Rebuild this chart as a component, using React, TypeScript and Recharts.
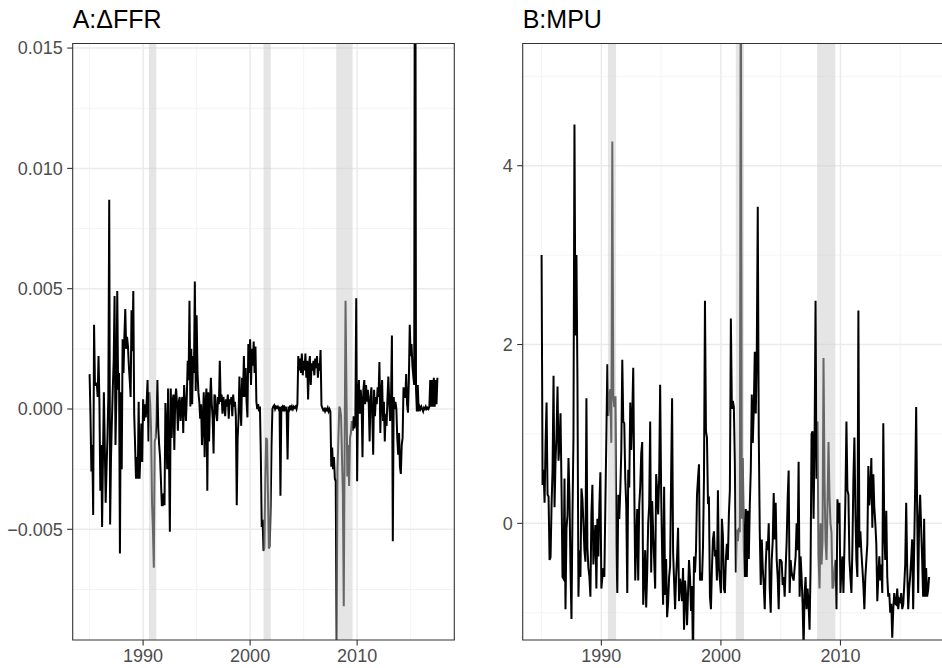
import React from 'react';
import { LineChart, Line, XAxis, YAxis, CartesianGrid, ReferenceArea } from 'recharts';

const firstYear = 1985;

// monthly change in the federal funds rate, one row per year (Jan 1985 - Jul 2017)
const dffr = [
  0.00145, -0.0003, -0.0026, -0.0015, -0.0044, 0.0035, 0.001, 0.001, 0.0011, 0.0005, 0.0022, 0.0003,
  -0.0034, -0.0015, -0.0049, -0.002, 0.0007, -0.0015, -0.0039, -0.0025, -0.0012, 0.0005, 0.0087, -0.0048,
  -0.002, -0.0005, 0.00085, 0.002, 0.0047, -0.0015, 0.0005, 0.0049, 0.0008, 0.0015, -0.006, 0.0007,
  -0.0025, 0.0029, 0.0015, 0.003, 0.00415, 0.0025, 0.003, 0.0026, 0.0018, 0.0012, 0.0005, 0.0041,
  0.0024, 0.0049, -0.0002, -0.0015, -0.0029, -0.002, -0.0029, 0.0003, -0.0029, -0.0018, -0.0006, -0.0022,
  0.0004, -0.0005, 0.0002, -0.00035, 0.0003, 0.0012, -0.00135, 0.0007, 0.0002, -0.001, -0.0039, -0.005,
  -0.0066, -0.00135, -0.0012, -0.0005, 0.0012, -0.0008, -0.0015, -0.002, -0.003, -0.004, -0.004, -0.0035,
  -0.004, 0.00025, -0.001, -0.0025, 0.00085, -0.002, -0.0051, 0.00085, -0.0012, 0.0003, 0.0006, -0.0017,
  0.0004, 0.00085, 0.0002, -0.0009, 0.0003, 0.0005, -0.0005, 0.0002, 0.0005, -0.001, 0.001, 0.0002,
  -0.0005, 0.0005, 0.002, 0.0012, 0.0045, 0.0001, 0.0025, 0.0002, 0.0022, 0.0015, 0.0053, 0.00075,
  0.0039, 0.0015, 0.0007, 0.0003, -0.0004, 0.0002, -0.0015, -0.0005, 0.0007, -0.002, 0.0002, 0.00085,
  -0.0034, 0.0007, -0.00135, 0.0003, 0.0013, 0.0002, -0.0004, -0.00185, 0.0006, 0.0005, -0.0002, -0.0005,
  0.0005, 0.0002, 0.002, 0.0003, 0.0006, -0.0002, 0.0005, 0.0002, -0.0003, 0.0004, 0.0001, 0.0006,
  -0.0004, 0.0004, 0.0002, 0.0005, -0.0003, 0.0006, 0.0001, 0.0003, -0.0003, -0.004, -0.0012, -0.0004,
  0.00135, 0.0002, -0.0007, 0.0013, 0.0005, 0.0022, 0.0005, 0.0017, 0.0003, -0.00035, 0.0027, 0.0015,
  0.0029, 0.001, 0.0025, 0.0018, 0.0028, 0.0015, 0.0026, 0.0003, 0, 0.0002, -0.0001, 0.0001,
  -0.0019, -0.0049, -0.0046, -0.0059, -0.0058, -0.0029, -0.0012, -0.0013, -0.0035, -0.0058, -0.0057, -0.0041,
  -0.0015, 0, 0.0001, 0.00015, 0, 0.0001, 0.00005, 0.0001, 0, 0.0001, -0.0036, 0.00005,
  0.0001, -0.0001, 0.00015, 0, 0.0001, -0.00015, -0.0021, 0.0001, 0, 0.00015, -0.00005, 0.0001,
  0, 0.0001, 0.00005, 0.0001, 0, 0.0002, 0.0022, 0.0016, 0.0021, 0.0015, 0.0023, 0.0014,
  0.002, 0.0016, 0.0023, 0.0013, 0.002, 0.0004, 0.0018, 0.0022, 0.001, 0.0019, 0.0016, 0.002,
  0.0014, 0.0021, 0.0017, 0.0022, 0.0013, 0.0019, 0.0016, 0.00245, 0.00015, 0.00005, -0.00005, 0,
  -0.0001, 0, -0.00005, 0.00005, -0.0001, 0, -0.0001, -0.0024, -0.0016, -0.0025, -0.002, -0.0029,
  -0.003, -0.0097, -0.0025, -0.0012, 0.0001, 0, -0.0003, -0.002, -0.0035, -0.0082, -0.0015, 0.0045,
  0.00085, -0.0028, -0.0015, -0.0032, -0.0012, -0.001, -0.0005, -0.0009, -0.0003, -0.0008, -0.0005, 0.0046,
  -0.003, 0.0005, 0.0012, -0.0002, 0.0008, 0.0003, -0.002, 0.0008, 0.0012, 0.0002, 0.001, 0.0003,
  0.0008, 0.0002, -0.00135, 0.0005, 0.0009, -0.0003, -0.0019, 0.0008, -0.0003, 0.0005, 0.0002, 0.0009,
  0.0005, 0.00195, -0.001, 0.0006, 0.0012, -0.0005, 0.0003, -0.00135, -0.0002, -0.0007, 0.0004, 0.00135,
  0.0003, -0.0005, 0.0004, 0.00305, -0.0055, 0.0005, 0, 0.0003, 0, -0.0012, -0.0019, -0.001,
  -0.0024, -0.0027, -0.0015, -0.0012, 0.0009, 0.0005, 0.0005, 0.00145, 0.0002, -0.00015, 0.0012, 0.0035,
  0.0022, 0.0027, 0.0018, 0.00135, 0.001, 0.03, 0.00085, -0.0001, 0.001, -0.0001, 0.0001, 0,
  0.0001, 0, -0.0001, 0.00005, 0, 0.0001, 0, 0.00005, 0, 0.0001, 0.0012, 0.0001,
  0.0012, 0.0001, 0.0013, 0.0001, 0.0012, 0.0002, 0.0013,
];

// monetary policy uncertainty, one row per year (Jan 1985 - Jun 2017)
const mpu = [
  3.0, 0.43, 0.6, 0.23, 0.9, 1.35, 0.32, 0.3, -0.41, -0.38, 0.2, 0.6,
  1.65, 0.18, 0.7, 1.0, 1.53, 0.7, 0.9, 1.23, 0.4, -0.6, -0.62, 0.5,
  -0.96, -0.05, 0.09, 0.73, 0.3, -0.5, -1.07, 0.1, 0.96, 4.46, 2.1, 3.0,
  1.6, -0.82, -0.3, -0.6, 0.39, 0.27, 0.0, -0.3, -0.43, 1.4, -0.27, -0.5,
  -0.6, -0.82, 0.1, 0.43, -0.46, -0.2, -0.02, -0.73, 0.05, -0.37, 0.2, 0.57,
  -0.73, -0.6, -0.5, -0.6, 0.2, 0.96, 1.78, 1.2, 1.42, 1.5, 0.9, 4.27,
  1.42, 1.3, 1.42, -0.23, -0.78, 0.32, 0.05, 0.37, 0.8, 1.83, 1.14, 1.12,
  0.5, 0.2, -0.78, 0.6, 0.4, 1.35, 0.82, 1.2, 1.74, 0.46, -0.64, -0.2,
  0.16, -0.64, 0.2, 0.4, 0.78, 0.91, -0.91, -0.64, -0.3, -0.94, -0.55, 0.0,
  0.2, 1.14, -0.55, 0.25, -0.1, -0.41, -0.73, 0.55, 0.37, 0.1, 0.5, 1.55,
  0.37, -0.34, -0.91, 0.41, -0.8, -0.4, -1.05, -0.89, -0.6, -0.48, 0.5, 1.4,
  -0.32, -0.64, -0.96, -0.6, -0.37, -0.05, -0.87, -0.62, -0.7, -0.87, -0.5, -1.19,
  -0.64, -0.8, -1.14, -0.78, -0.41, -0.6, -0.98, -0.7, -1.55, -0.37, -0.55, -0.3,
  0.32, 0.5, 0.66, -0.64, -0.55, -0.64, -0.27, 0.5, 2.49, 1.03, 0.96, 0.25,
  0.27, -0.82, -0.96, -0.5, -0.18, -0.09, -0.37, -0.3, -0.64, 0.37, -0.5, -0.64,
  -0.78, 0.05, -0.14, -0.73, -0.78, -0.4, -0.23, -0.41, 0.1, 0.37, 2.29, 1.28,
  1.37, 1.3, 0.69, -0.55, -0.07, -0.2, -0.05, -0.1, 7.0, 0.05, 0.73, -0.3,
  -0.6, 0.16, -0.6, 0.14, -0.4, 0.2, 0.6, 1.44, 0.9, 1.28, 1.92, 1.23,
  1.9, 3.54, 1.0, -0.09, -0.69, -0.18, -0.5, -0.69, -0.96, -0.46, -0.2, -0.3,
  0.0, -0.73, -1.0, -0.41, -0.2, 0.34, -0.18, 0.23, -0.41, -0.6, -0.96, -0.41,
  -0.41, -0.43, -0.69, -0.6, -0.82, -0.5, -0.2, 0.27, 0.59, -0.78, -0.41, -0.55,
  -0.6, -0.64, -0.5, -0.37, 0.0, -0.3, 0.69, -0.82, -0.37, -0.6, -0.9, -1.4,
  -0.78, -0.6, -0.96, -0.73, -0.9, -1.19, -0.5, 1.0, 1.03, 0.05, 0.87, 2.49,
  0.5, 1.14, -0.37, -0.73, 0.0, -0.46, -0.2, 1.85, 0.5, -0.2, -0.41, 0.2,
  0.91, 0.3, 0.0, -0.1, -0.73, -0.7, -0.5, -0.41, -0.96, 0.27, 0.0, 0.23,
  -0.78, -0.5, -0.37, -0.78, -0.27, 0.3, 1.14, 0.37, 0.32, -0.41, -0.6, -0.78,
  -0.27, 0.5, 0.96, 0.14, -0.41, -0.6, 2.38, -0.27, -0.09, -0.32, -0.5, -0.69,
  -0.96, -0.6, -0.41, -0.23, 0.64, 0.2, 0.37, 0.73, -0.05, 0.55, 0.18, 0.0,
  -0.23, -0.87, -0.6, -0.37, -0.64, -0.46, -0.78, 1.12, -0.1, -0.41, 0.14, -0.6,
  -0.82, -0.78, -1.0, -0.9, -1.28, -0.96, -0.78, -0.9, -0.91, -0.73, -0.96, -0.85,
  -0.87, -0.78, -0.96, -0.91, -0.7, -0.46, 0.23, -0.5, -0.96, -0.73, -0.59, -0.4,
  -0.18, -0.96, -0.27, 0.4, 1.3, 0.14, -0.78, 0.05, 0.32, -0.05, -0.4, -0.82,
  0.05, -0.82, -0.5, -0.82, -0.75, -0.6,
];

// NBER recessions (shaded)
const recessionStart = [1990.55, 2001.25, 2008.05];
const recessionEnd = [1991.23, 2001.93, 2009.57];

const xDomain = [1983.42, 2019.08];
const yearTicks = [1990, 2000, 2010];
const yearMinor = [1985, 1995, 2005, 2015];

const ffrDomain = [-0.0096, 0.01519];
const ffrTicks = [-0.005, 0, 0.005, 0.01, 0.015];
const ffrMinor = [-0.0075, -0.0025, 0.0025, 0.0075, 0.0125];

const mpuDomain = [-1.305, 5.367];
const mpuTicks = [0, 2, 4];
const mpuMinor = [-1, 1, 3, 5];

const font = '"Liberation Sans", Arial, Helvetica, sans-serif';

const fmtFfr = (v: number) => (v < 0 ? '\u2212' : '') + Math.abs(v).toFixed(3);
const fmtMpu = (v: number) => (v < 0 ? '\u2212' : '') + Math.abs(v);

type PanelProps = {
  title: string;
  values: number[];
  left: number;
  width: number;
  axisWidth: number;
  rightMargin: number;
  yDomain: number[];
  yTicks: number[];
  yMinor: number[];
  fmt: (v: number) => string;
};

const Panel = ({ title, values, left, width, axisWidth, rightMargin, yDomain, yTicks, yMinor, fmt }: PanelProps) => {
  const data = values.map((v, i) => ({ t: firstYear + i / 12, v }));
  return (
    <div style={{ position: 'absolute', left, top: 0, width, height: 668 }}>
      <div
        style={{
          position: 'absolute',
          left: axisWidth,
          top: 7,
          fontSize: 25,
          lineHeight: 1,
          fontFamily: font,
          color: '#000',
          whiteSpace: 'nowrap',
        }}
      >
        {title}
      </div>
      <LineChart width={width} height={668} data={data} margin={{ top: 43.5, right: rightMargin, bottom: 0, left: 0 }}>
        <CartesianGrid horizontalValues={yMinor} verticalValues={yearMinor} stroke="#f1f1f1" strokeWidth={0.8} />
        <CartesianGrid horizontalValues={yTicks} verticalValues={yearTicks} stroke="#ebebeb" strokeWidth={1.5} />
        <XAxis
          type="number"
          dataKey="t"
          domain={xDomain}
          allowDataOverflow
          ticks={yearTicks}
          height={28}
          axisLine={false}
          tickSize={5.5}
          tickMargin={4}
          tickLine={{ stroke: '#333333', strokeWidth: 1.1 }}
          tick={{ fill: '#4d4d4d', fontSize: 18, fontFamily: font }}
        />
        <YAxis
          type="number"
          domain={yDomain}
          allowDataOverflow
          ticks={yTicks}
          width={axisWidth}
          axisLine={false}
          tickSize={5.5}
          tickMargin={4.5}
          tickFormatter={fmt}
          tickLine={{ stroke: '#333333', strokeWidth: 1.1 }}
          tick={{ fill: '#4d4d4d', fontSize: 18, fontFamily: font }}
        />
        <Line
          type="linear"
          dataKey="v"
          stroke="#000000"
          strokeWidth={2}
          dot={false}
          activeDot={false}
          isAnimationActive={false}
        />
        {recessionStart.map((s, i) => (
          <ReferenceArea
            key={s}
            x1={s}
            x2={recessionEnd[i]}
            fill="#cbcbcb"
            fillOpacity={0.5}
            stroke="none"
            ifOverflow="hidden"
            zIndex={450}
          />
        ))}
        <ReferenceArea
          x1={xDomain[0]}
          x2={xDomain[1]}
          y1={yDomain[0]}
          y2={yDomain[1]}
          fill="none"
          stroke="#333333"
          strokeWidth={1.1}
          ifOverflow="visible"
          zIndex={600}
        />
      </LineChart>
    </div>
  );
};

export default function App() {
  return (
    <div
      style={{
        position: 'absolute',
        left: 0,
        top: 0,
        width: 942,
        height: 668,
        overflow: 'hidden',
        background: '#ffffff',
      }}
    >
      <Panel
        title="A:ΔFFR"
        values={dffr}
        left={0}
        width={460}
        axisWidth={72.7}
        rightMargin={5.7}
        yDomain={ffrDomain}
        yTicks={ffrTicks}
        yMinor={ffrMinor}
        fmt={fmtFfr}
      />
      <Panel
        title="B:MPU"
        values={mpu}
        left={460}
        width={489}
        axisWidth={62.7}
        rightMargin={0}
        yDomain={mpuDomain}
        yTicks={mpuTicks}
        yMinor={mpuMinor}
        fmt={fmtMpu}
      />
    </div>
  );
}
